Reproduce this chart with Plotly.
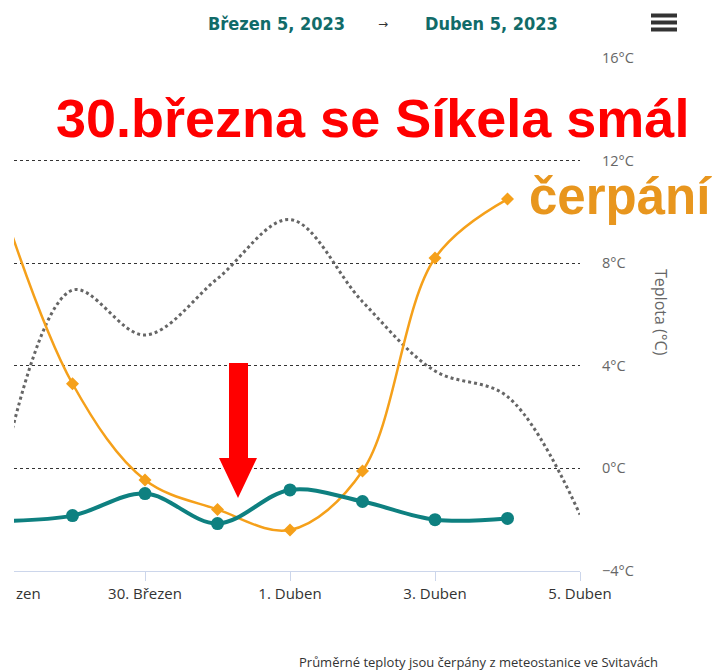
import plotly.graph_objects as go

# ---------------- data ----------------
dates = ["2023-03-28", "2023-03-29", "2023-03-30", "2023-03-31",
         "2023-04-01", "2023-04-02", "2023-04-03", "2023-04-04", "2023-04-05"]
avg_temp = [-0.5, 6.95, 5.2, 7.4, 9.7, 6.5, 3.8, 2.8, -1.8]          # dotted grey
orange_vals = [10.5, 3.3, -0.45, -1.6, -2.4, -0.1, 8.2, 10.5, None]   # orange diamonds
teal_vals = [-2.05, -1.84, -0.98, -2.15, -0.84, -1.29, -2.0, -1.95, None]  # teal circles

tick_vals = ["2023-03-30", "2023-04-01", "2023-04-03", "2023-04-05"]
tick_text = ["30. Březen", "1. Duben", "3. Duben", "5. Duben"]
clipped_tick_text = "zen"   # visible remainder of the cut-off "28. Březen" label
y_ticks = [-4, 0, 4, 8, 12, 16]
y_tick_text = ["−4°C", "0°C", "4°C", "8°C", "12°C", "16°C"]

header_from = "Březen 5, 2023"
header_to = "Duben 5, 2023"
title_text = "30.března se Síkela smál"
label_text = "čerpání"
axis_title = "Teplota (°C)"
footer_text = "Průměrné teploty jsou čerpány z meteostanice ve Svitavách"

# ---------------- layout geometry ----------------
W, H = 719, 672
ML, MR, MT, MB = 14, 139, 58, 101
PW, PH = W - ML - MR, H - MT - MB


def px(x):
    return (x - ML) / PW


def py(y):
    return (H - MB - y) / PH


TEAL = "#0e8080"
ORANGE = "#f5a01a"

fig = go.Figure()
fig.add_trace(go.Scatter(
    x=dates, y=avg_temp, mode="lines",
    line=dict(color="#666666", width=3, dash="dot", shape="spline", smoothing=1.0),
    showlegend=False, hoverinfo="skip"))
fig.add_trace(go.Scatter(
    x=dates, y=orange_vals, mode="lines+markers",
    line=dict(color=ORANGE, width=2.5, shape="spline", smoothing=1.0),
    marker=dict(symbol="diamond", size=10, color=ORANGE),
    showlegend=False))
fig.add_trace(go.Scatter(
    x=dates, y=teal_vals, mode="lines+markers",
    line=dict(color=TEAL, width=4, shape="spline", smoothing=1.0),
    marker=dict(symbol="circle", size=13, color=TEAL),
    showlegend=False))

fig.update_layout(
    width=W, height=H,
    margin=dict(l=ML, r=MR, t=MT, b=MB),
    paper_bgcolor="white", plot_bgcolor="white",
    showlegend=False,
    font=dict(family="Open Sans, DejaVu Sans, sans-serif", color="#333333"),
)
fig.update_xaxes(
    type="date", range=["2023-03-28 04:38", "2023-04-05"],
    tickvals=tick_vals, ticktext=tick_text,
    showgrid=False, zeroline=False,
    showline=True, linecolor="#ccd6eb", linewidth=1,
    ticks="outside", ticklen=9, tickcolor="#ccd6eb",
    tickfont=dict(size=15, color="#333333", family="Open Sans, DejaVu Sans, sans-serif"),
)
fig.update_yaxes(
    side="right", range=[-4, 16], tickvals=y_ticks, ticktext=y_tick_text,
    showgrid=True, gridcolor="#333333", gridwidth=1, griddash="dot",
    zeroline=False, showline=False, ticks="",
    ticklabelstandoff=21,
    tickfont=dict(size=14.5, color="#666666", family="Open Sans, DejaVu Sans, sans-serif"),
)

ann = []
# visible part of the first (cut-off) x label
ann.append(dict(text=clipped_tick_text, xref="paper", yref="paper", x=px(14), y=py(593),
                xanchor="left", yanchor="middle", showarrow=False,
                font=dict(size=15, color="#333333")))
# y axis title
ann.append(dict(text=axis_title, xref="paper", yref="paper", x=px(661), y=py(312),
                textangle=90, xanchor="center", yanchor="middle", showarrow=False,
                font=dict(size=16, color="#666666")))
# header
hfont = dict(family="Liberation Sans Narrow, DejaVu Sans Condensed, sans-serif",
             size=18, color="#116b69")
ann.append(dict(text="<b>" + header_from + "</b>", xref="paper", yref="paper",
                x=px(276), y=py(23), xanchor="center", yanchor="middle",
                showarrow=False, font=hfont))
ann.append(dict(text="→", xref="paper", yref="paper",
                x=px(383), y=py(24), xanchor="center", yanchor="middle",
                showarrow=False, font=dict(size=12, color="#333333")))
ann.append(dict(text="<b>" + header_to + "</b>", xref="paper", yref="paper",
                x=px(491), y=py(23), xanchor="center", yanchor="middle",
                showarrow=False, font=hfont))
# big red title
ann.append(dict(text="<b>" + title_text + "</b>", xref="paper", yref="paper",
                x=px(372), y=py(118), xanchor="center", yanchor="middle",
                showarrow=False,
                font=dict(family="Liberation Sans, Arial, sans-serif", size=54, color="#ff0000")))
# orange label
ann.append(dict(text="<b>" + label_text + "</b>", xref="paper", yref="paper",
                x=px(620), y=py(196), xanchor="center", yanchor="middle",
                showarrow=False,
                font=dict(family="Liberation Sans, Arial, sans-serif", size=51, color="#e8961e")))
# footer
ann.append(dict(text=footer_text, xref="paper", yref="paper",
                x=px(660), y=py(662), xanchor="right", yanchor="middle",
                showarrow=False, font=dict(size=13, color="#333333")))
fig.update_layout(annotations=ann)

shapes = []
# hamburger menu
for yc in (15.5, 22.5, 29.5):
    shapes.append(dict(type="rect", xref="paper", yref="paper",
                       x0=px(651), x1=px(677), y0=py(yc - 2), y1=py(yc + 2),
                       fillcolor="#333333", line=dict(width=0)))
# red arrow
pts = [(229, 363), (248, 363), (248, 458), (257, 458), (238, 498),
       (219, 458), (229, 458)]
path = "M " + " L ".join(f"{px(a):.5f},{py(b):.5f}" for a, b in pts) + " Z"
shapes.append(dict(type="path", xref="paper", yref="paper", path=path,
                   fillcolor="#ff0000", line=dict(width=0)))
fig.update_layout(shapes=shapes)

fig.write_html("out.html", config={"displayModeBar": False},
               post_script="document.body.style.margin='0';document.body.style.overflow='hidden';")
